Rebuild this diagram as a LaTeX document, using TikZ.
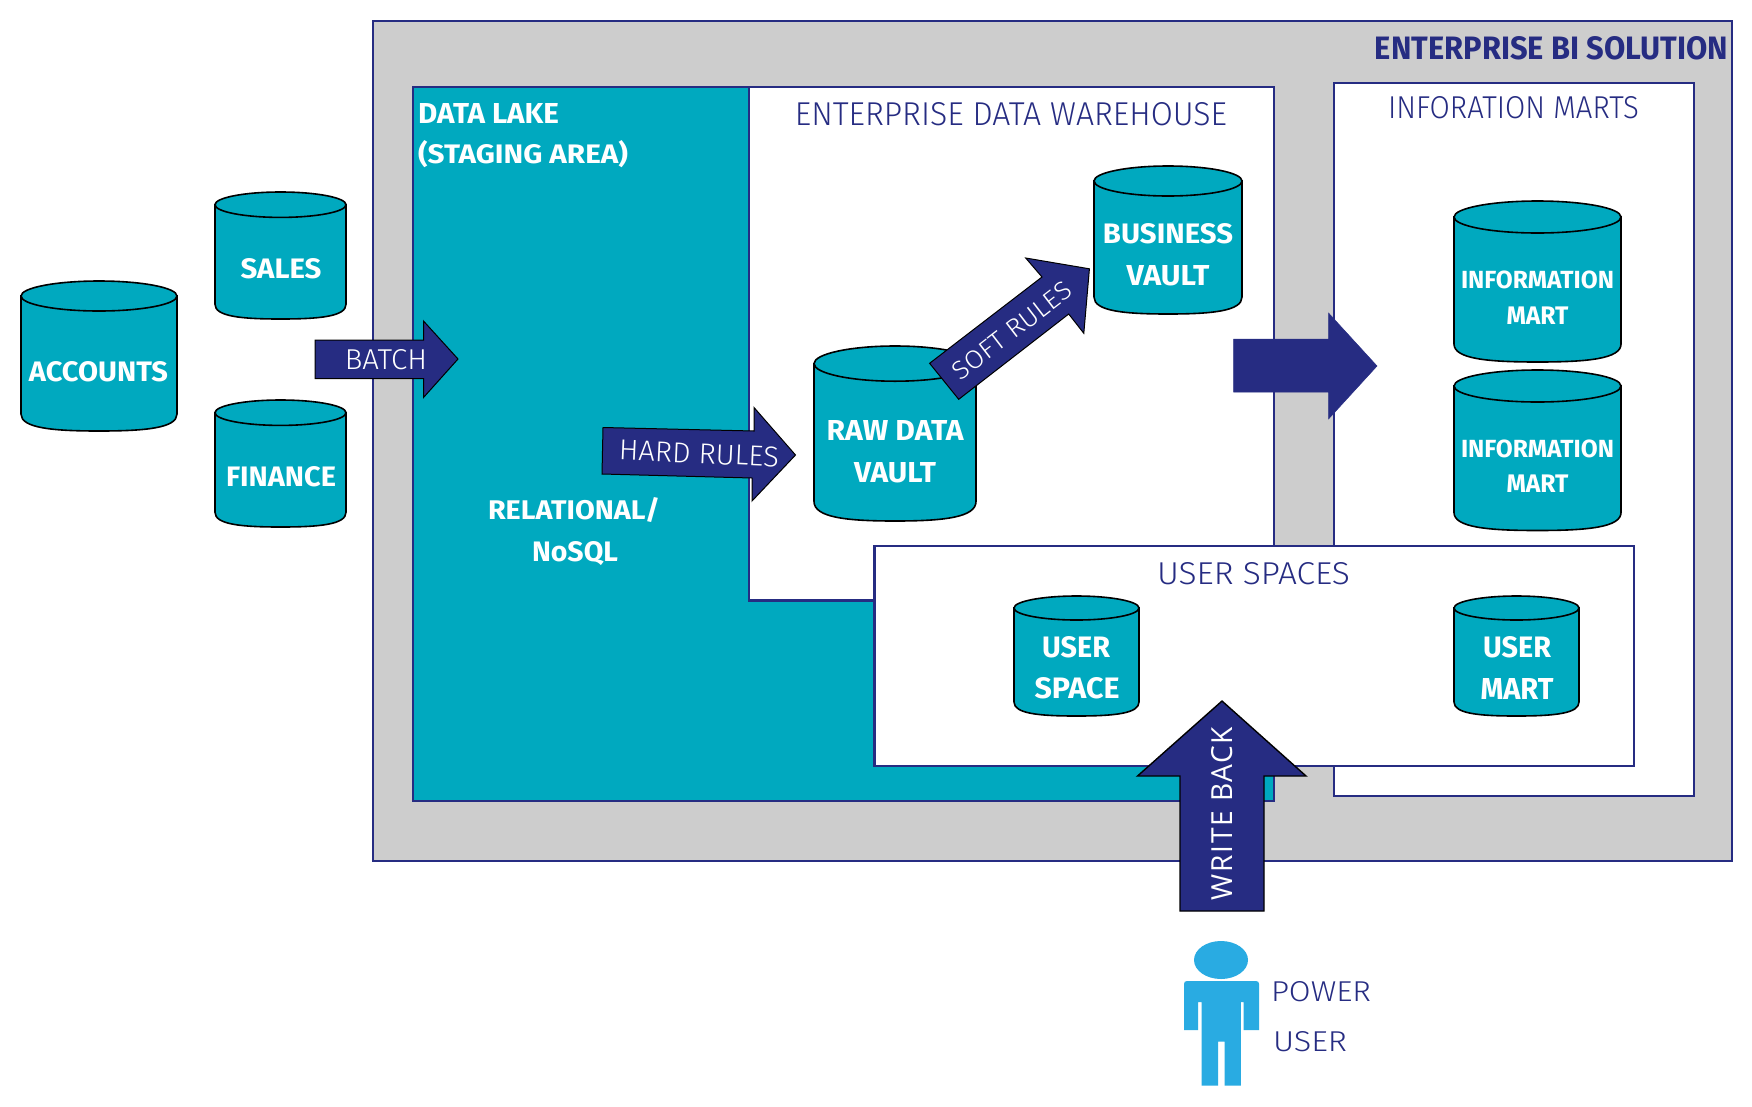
\documentclass[tikz,border=0pt]{standalone}
\usepackage{fontspec}
\usepackage{graphicx}
\setmainfont{Fira Sans}
\newfontfamily\boldf{Fira Sans}[UprightFont=* Bold]
\newfontfamily\lightf{Fira Sans}[UprightFont=* Light]
\newfontfamily\widef{Open Sans}[LetterSpace=6]
\definecolor{teal1}{HTML}{00A9BF}
\definecolor{navy1}{HTML}{262C82}
\definecolor{gray1}{HTML}{CDCDCD}
\definecolor{person1}{HTML}{29ABE2}
\newcommand\fitb[3]{\resizebox{#1pt}{#2pt}{\boldf #3}}
\newcommand\fitl[3]{\resizebox{#1pt}{#2pt}{\lightf #3}}
\newcommand\fitw[3]{\resizebox{#1pt}{#2pt}{\widef #3}}
\tikzset{
  cylline/.style={fill=teal1,draw=black,line width=1.6pt},
  cyltop/.style={fill=teal1,draw=black,line width=1.6pt},
  boxline/.style={draw=navy1,line width=2.4pt},
  fatarrow/.style={fill=navy1,draw=black,line width=1pt,line join=miter},
  plainarrow/.style={fill=navy1,draw=navy1,line width=.5pt},
  txt/.style={inner sep=0pt,outer sep=0pt,text=white,anchor=center},
  ntxt/.style={inner sep=0pt,outer sep=0pt,text=navy1,anchor=center},
  ltxt/.style={inner sep=0pt,outer sep=0pt,text=white,anchor=west},
  ntxtl/.style={inner sep=0pt,outer sep=0pt,text=navy1,anchor=west},
}
\newcommand\cylinder[6]{% x1 x2 ytop ybot ry name
  \draw[cylline] (#1,#3+#5) -- (#1,#4-#5-2)
    .. controls (#1,#4-#5*0.2) and ({#1+(#2-#1)*0.2},#4) .. ({(#1+#2)/2},#4)
    .. controls ({#2-(#2-#1)*0.2},#4) and (#2,#4-#5*0.2) .. (#2,#4-#5-2)
    -- (#2,#3+#5) -- cycle;
  \draw[cyltop] ({(#1+#2)/2},#3+#5) ellipse ({(#2-#1)/2} and #5);
  \coordinate (#6) at ({(#1+#2)/2},{(#3+#4)/2});
}
\begin{document}
\begin{tikzpicture}[x=1pt,y=-1pt]
\useasboundingbox (0,0) rectangle (1752,1106);
\fill[white] (0,0) rectangle (1752,1106);
% containers
\draw[boxline,fill=gray1] (373,21) rectangle (1732,861);
\draw[boxline,fill=teal1] (413,87) rectangle (1274,801);
\draw[boxline,fill=white] (749,87) rectangle (1274,600.5);
\draw[boxline,fill=white] (1334,83) rectangle (1694,796);
\draw[boxline,fill=white] (874.5,546) rectangle (1634,766);
% cylinders
\cylinder{21}{177}{281}{431}{15}{accounts}
\cylinder{215}{346}{192}{319}{12.7}{sales}
\cylinder{215}{346}{400}{527}{12.7}{finance}
\cylinder{814}{976}{346}{521}{17.6}{raw}
\cylinder{1094}{1242}{166}{314}{15}{business}
\cylinder{1454}{1621}{201}{362}{16}{infoa}
\cylinder{1454}{1621}{370}{530.5}{16}{infob}
\cylinder{1014}{1139}{596}{716}{12}{userspace}
\cylinder{1454}{1579}{596}{716}{12}{usermart}
% arrows
\draw[fatarrow] (315,340) -- (423.5,340) -- (423.5,321) -- (458,359) -- (423.5,397.5) -- (423.5,378.5) -- (315,378.5) -- cycle;
\draw[fatarrow] (603,427.5) -- (754,431) -- (754,407.5) -- (795.5,455) -- (752,501) -- (752,478) -- (602,474) -- cycle;
\draw[fatarrow] (929.6,363.3) -- (1042,277) -- (1025.7,258) -- (1089.4,268.8) -- (1083.8,333.3) -- (1068.7,314) -- (958.7,399.3) -- cycle;
\draw[plainarrow] (1233.5,339) -- (1328.5,339) -- (1328.5,313) -- (1377,366) -- (1328.5,419) -- (1328.5,392) -- (1233.5,392) -- cycle;
\draw[fatarrow,line width=1.4pt] (1180,911) -- (1180,776) -- (1137.5,776) -- (1222,701) -- (1306,776) -- (1264,776) -- (1264,911) -- cycle;
% person
\fill[person1] (1221,960) ellipse (27 and 19);
\fill[person1] (1184,1030) -- (1184,984) .. controls (1184,982) and (1185,981) .. (1187,981) -- (1256,981) .. controls (1258,981) and (1259,982) .. (1259,984) -- (1259,1030) -- (1243.6,1030) -- (1243.6,1002) -- (1240.8,1002) -- (1240.8,1085.6) -- (1224.6,1085.6) -- (1224.6,1041.5) -- (1218,1041.5) -- (1218,1085.6) -- (1201.7,1085.6) -- (1201.7,1002) -- (1198,1002) -- (1198,1030) -- cycle;
% labels
\node[ntxt] (tbi) at (1551.5,48) {\fitb{353}{23}{ENTERPRISE BI SOLUTION}};
\node[ltxt] (tlake) at (418,113.5) {\fitb{141}{20}{DATA LAKE}};
\node[ltxt] (tstag) at (418,154.5) {\fitb{210}{23}{(STAGING AREA)}};
\node[ntxt] (tedw) at (1011,114.5) {\fitl{432}{23}{ENTERPRISE DATA WAREHOUSE}};
\node[ntxt] (tmarts) at (1513.5,108) {\fitl{251}{22}{INFORATION MARTS}};
\node[ntxt] (tus) at (1253.5,574) {\fitl{193}{22}{USER SPACES}};
\node[ntxt] (tpow) at (1321,992) {\fitl{100}{20}{POWER}};
\node[ntxtl] (tuser) at (1273,1042) {\fitl{74}{20}{USER}};
\node[txt] (tbatch) at (386,360) {\fitl{82}{20}{BATCH}};
\node[txt,rotate=-2.5] (thard) at (699,453.5) {\fitl{160}{20}{HARD RULES}};
\node[txt,rotate=37.5] (tsoft) at (1012,330.5) {\fitl{143}{18}{SOFT RULES}};
\node[txt,rotate=90] (twb) at (1222.5,813.5) {\fitw{173}{21}{WRITE BACK}};
\node[txt] (trel) at (574,510) {\fitb{172}{22}{RELATIONAL/}};
\node[txt] (tnos) at (575,554) {\fitb{86}{20}{NoSQL}};
\node[txt] (l1) at (98.5,372) {\fitb{139}{20}{ACCOUNTS}};
\node[txt] (l2) at (281,269) {\fitb{81}{20}{SALES}};
\node[txt] (l3) at (281,477) {\fitb{110}{20}{FINANCE}};
\node[txt] (l4) at (895,430) {\fitb{137}{20}{RAW DATA}};
\node[txt] (l5) at (895,472.5) {\fitb{82}{20}{VAULT}};
\node[txt] (l6) at (1168,234) {\fitb{130}{20}{BUSINESS}};
\node[txt] (l7) at (1168,276) {\fitb{83}{20}{VAULT}};
\node[txt] (l8) at (1537.5,280) {\fitb{153}{17.6}{INFORMATION}};
\node[txt] (l9) at (1537.5,316) {\fitb{62}{17.6}{MART}};
\node[txt] (l10) at (1537.5,449) {\fitb{153}{17.6}{INFORMATION}};
\node[txt] (l11) at (1537.5,484) {\fitb{62}{17.6}{MART}};
\node[txt] (l12) at (1076,647.5) {\fitb{68}{21}{USER}};
\node[txt] (l13) at (1077,688.5) {\fitb{85}{21}{SPACE}};
\node[txt] (l14) at (1517,647.5) {\fitb{68}{21}{USER}};
\node[txt] (l15) at (1517,688.5) {\fitb{73}{21}{MART}};
\end{tikzpicture}
\end{document}
